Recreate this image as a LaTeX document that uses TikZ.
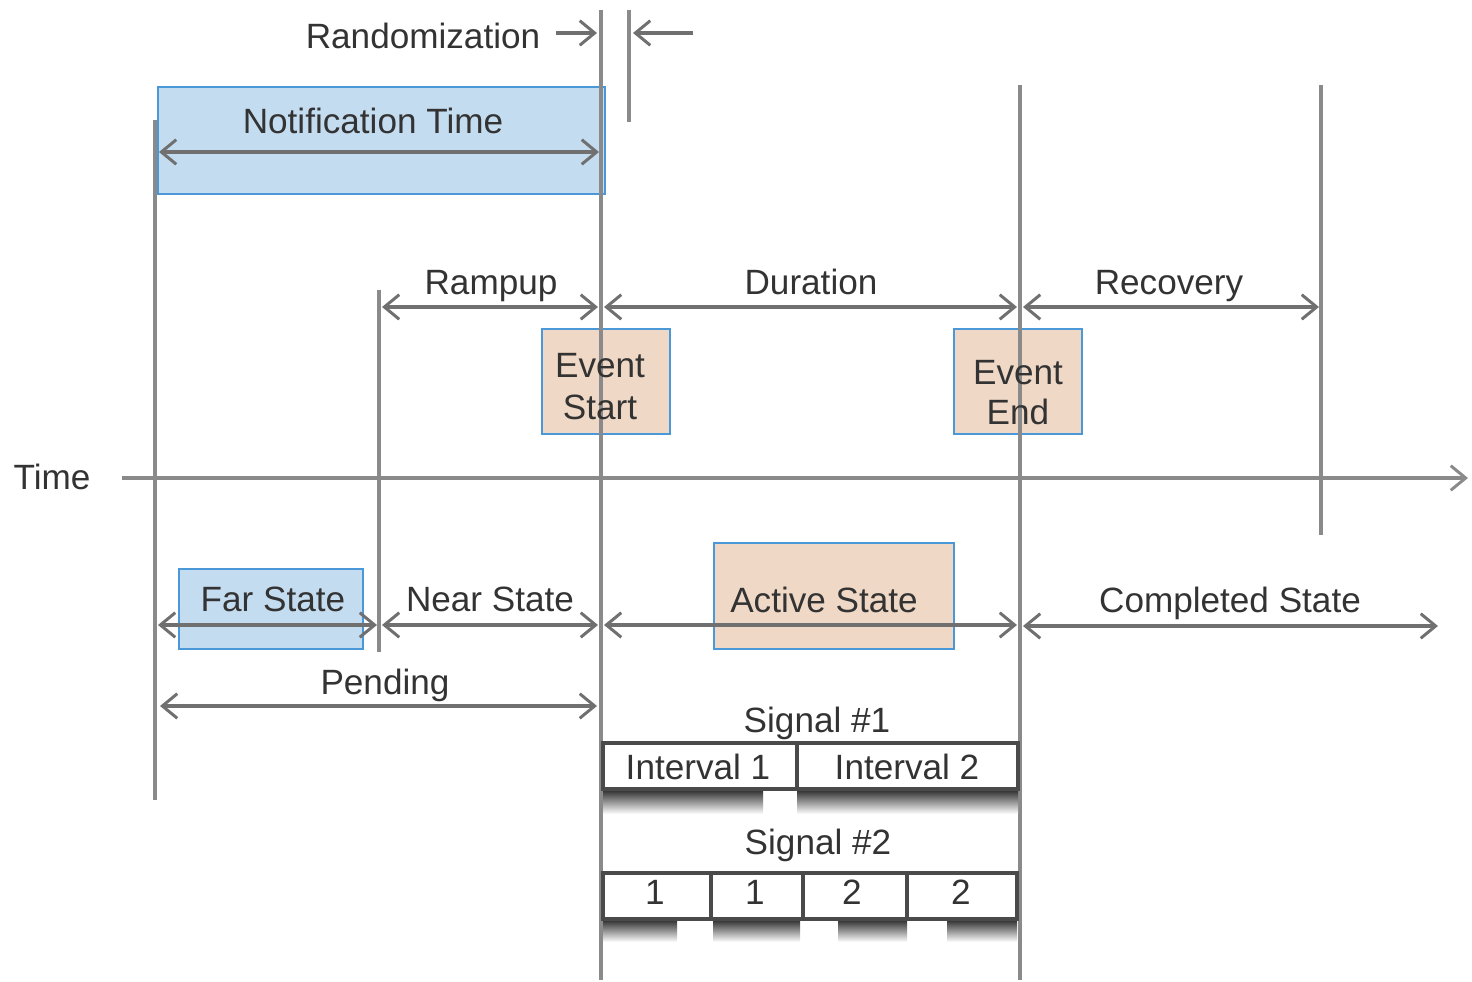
\documentclass[tikz,border=0pt]{standalone}
\usepackage{fontspec}
\setmainfont{Liberation Sans}
\usetikzlibrary{arrows.meta}
\definecolor{vline}{HTML}{8A8A8A}
\definecolor{aline}{HTML}{707070}
\definecolor{txt}{HTML}{333333}
\definecolor{bluefill}{RGB}{196,220,240}
\definecolor{peachfill}{RGB}{240,216,198}
\definecolor{boxborder}{HTML}{4A98D8}
\definecolor{cellline}{HTML}{4A4A4A}
\begin{document}
\begin{tikzpicture}[x=0.02cm,y=-0.02cm,
  vl/.style={draw=vline,line width=2pt},
  tip/.tip={Straight Barb[length=8.5pt,width=14pt,line width=1.7pt]},
  dim/.style={draw=aline,line width=1.9pt,tip-tip},
  onearrow/.style={draw=aline,line width=1.9pt,-tip},
  lbl/.style={text=txt,font=\fontsize{20}{24}\selectfont,inner sep=0pt,anchor=base},
  bluebox/.style={fill=bluefill,draw=boxborder,line width=1.2pt},
  peachbox/.style={fill=peachfill,draw=boxborder,line width=1.2pt},
  cell/.style={draw=cellline,fill=white,line width=2pt},
  cellshadow/.style={top color=black!85,bottom color=white,draw=none}
]
\useasboundingbox (0,0) rectangle (1472,982);

% ---- boxes (background)
\draw[bluebox] (158,87) rectangle (605,194);
\draw[peachbox] (542,329) rectangle (670,434);
\draw[peachbox] (954,329) rectangle (1082,434);
\draw[bluebox] (179,569) rectangle (363,649);
\draw[peachbox] (714,543) rectangle (954,649);

% ---- vertical time marks
\coordinate (v1t) at (155,120); \coordinate (v1b) at (155,800);
\coordinate (v2t) at (379,290); \coordinate (v2b) at (379,652);
\coordinate (v3t) at (601,10);  \coordinate (v3b) at (601,980);
\coordinate (v4t) at (629,10);  \coordinate (v4b) at (629,122);
\coordinate (v5t) at (1020,85); \coordinate (v5b) at (1020,980);
\coordinate (v6t) at (1321,85); \coordinate (v6b) at (1321,535);
\foreach \v in {1,...,6} {\draw[vl] (v\v t) -- (v\v b);}

% ---- time axis
\coordinate (ax0) at (122,478); \coordinate (ax1) at (1468,478);
\draw[onearrow,draw=vline] (ax0) -- (ax1);
\node[lbl] (time) at (52,490) {Time};

% ---- randomization
\node[lbl] (rand) at (423,49) {Randomization};
\coordinate (r1a) at (556,33); \coordinate (r1b) at (597,33);
\coordinate (r2a) at (693,33); \coordinate (r2b) at (633,33);
\draw[onearrow] (r1a) -- (r1b);
\draw[onearrow] (r2a) -- (r2b);

% ---- notification time
\node[lbl] (notif) at (373,134) {Notification Time};
\coordinate (n1) at (159,152); \coordinate (n2) at (599,152);
\draw[dim] (n1) -- (n2);

% ---- rampup / duration / recovery
\node[lbl] (rampup) at (491,295) {Rampup};
\node[lbl] (duration) at (811,295) {Duration};
\node[lbl] (recovery) at (1169,295) {Recovery};
\coordinate (d1) at (382,307); \coordinate (d2) at (598,307);
\coordinate (d3) at (604,307); \coordinate (d4) at (1017,307);
\coordinate (d5) at (1023,307); \coordinate (d6) at (1319,307);
\draw[dim] (d1) -- (d2);
\draw[dim] (d3) -- (d4);
\draw[dim] (d5) -- (d6);

% ---- event start / end text
\node[lbl] (evs1) at (600,378) {Event};
\node[lbl] (evs2) at (600,420) {Start};
\node[lbl] (eve1) at (1018,385) {Event};
\node[lbl] (eve2) at (1018,425) {End};

% ---- states
\node[lbl] (far) at (273,612) {Far State};
\node[lbl] (near) at (490,612) {Near State};
\node[lbl] (active) at (824,613) {Active State};
\node[lbl] (completed) at (1230,613) {Completed State};
\coordinate (s1) at (158,625); \coordinate (s2) at (377,625);
\coordinate (s3) at (382,625); \coordinate (s4) at (598,625);
\coordinate (s5) at (604,625); \coordinate (s6) at (1017,625);
\coordinate (s7) at (1023,626); \coordinate (s8) at (1438,626);
\draw[dim] (s1) -- (s2);
\draw[dim] (s3) -- (s4);
\draw[dim] (s5) -- (s6);
\draw[dim] (s7) -- (s8);

% ---- pending
\node[lbl] (pending) at (385,695) {Pending};
\coordinate (p1) at (160,706); \coordinate (p2) at (597,706);
\draw[dim] (p1) -- (p2);

% ---- signal #1
\node[lbl] (sig1) at (817,733) {Signal \#1};
\shade[cellshadow] (603,789) rectangle (763,814);
\shade[cellshadow] (797,789) rectangle (1018,814);
\draw[cell] (603,743) rectangle (797,789);
\draw[cell] (797,743) rectangle (1018,789);
\node[lbl] (int1) at (698,780) {Interval 1};
\node[lbl] (int2) at (907,780) {Interval 2};

% ---- signal #2
\node[lbl] (sig2) at (818,855) {Signal \#2};
\shade[cellshadow] (603,919) rectangle (677,942);
\shade[cellshadow] (713,919) rectangle (800,942);
\shade[cellshadow] (838,919) rectangle (907,942);
\shade[cellshadow] (947,919) rectangle (1017,942);
\draw[cell] (603,873) rectangle (711,919);
\draw[cell] (711,873) rectangle (803,919);
\draw[cell] (803,873) rectangle (907,919);
\draw[cell] (907,873) rectangle (1017,919);
\node[lbl] (c1) at (655,905) {1};
\node[lbl] (c2) at (755,905) {1};
\node[lbl] (c3) at (852,905) {2};
\node[lbl] (c4) at (961,905) {2};
\end{tikzpicture}
\end{document}
